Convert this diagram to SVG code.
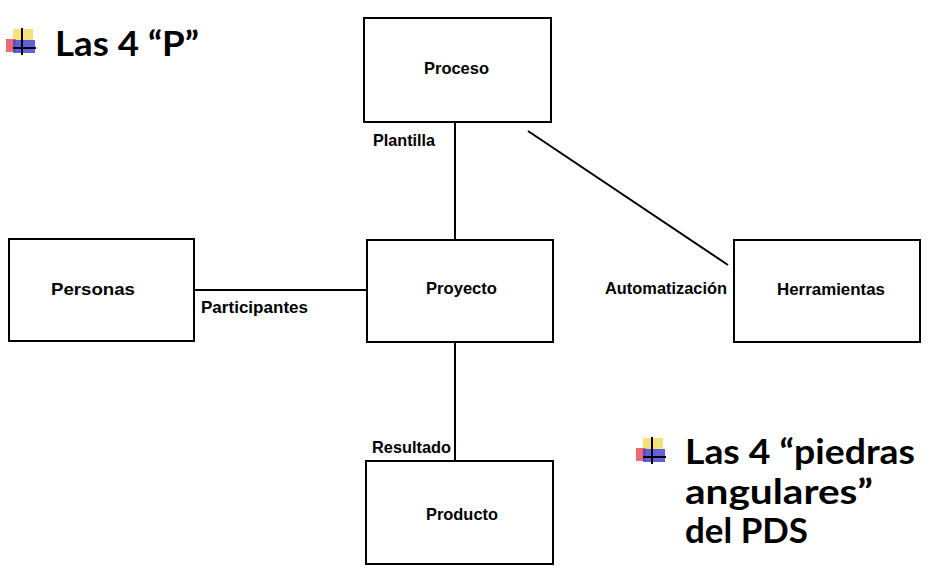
<svg xmlns="http://www.w3.org/2000/svg" width="937" height="579" viewBox="0 0 937 579">
<style>
.box{fill:#fff;stroke:#000;stroke-width:2}
.lbl{font-family:"Liberation Sans",Arial,sans-serif;font-weight:bold;font-size:16.5px;fill:#000}
.title{font-family:Lato,"Open Sans",sans-serif;font-weight:bold;font-size:35px;fill:#000}
.con{stroke:#000;stroke-width:2;fill:none}
</style>
<defs>
<g id="bullet">
<rect x="7" y="1" width="20" height="12" fill="#f7e27a"/>
<rect x="0" y="11" width="10" height="13" fill="#e8505a" opacity="0.85"/>
<rect x="7" y="12" width="22" height="13" fill="#4545d5" opacity="0.85"/>
<line x1="16" y1="0" x2="16" y2="27" stroke="#000" stroke-width="2"/>
<line x1="7" y1="20" x2="30" y2="20" stroke="#000" stroke-width="2"/>
</g>
</defs>
<rect width="937" height="579" fill="#fff"/>
<g id="connectors">
<line class="con" x1="455" y1="122" x2="455" y2="240"/>
<line class="con" x1="194" y1="290" x2="367" y2="290"/>
<line class="con" x1="455" y1="342" x2="455" y2="461"/>
<line class="con" x1="528" y1="131" x2="728" y2="265"/>
<text class="lbl" x="373" y="146" textLength="62" lengthAdjust="spacingAndGlyphs">Plantilla</text>
<text class="lbl" x="201" y="313" textLength="107" lengthAdjust="spacingAndGlyphs">Participantes</text>
<text class="lbl" x="605" y="294" textLength="122" lengthAdjust="spacingAndGlyphs">Automatización</text>
<text class="lbl" x="372" y="453" textLength="79" lengthAdjust="spacingAndGlyphs">Resultado</text>
</g>
<g id="proceso">
<rect class="box" x="364" y="18" width="187" height="104"/>
<text class="lbl" x="424" y="74" textLength="65" lengthAdjust="spacingAndGlyphs">Proceso</text>
</g>
<g id="personas">
<rect class="box" x="9" y="239" width="185" height="102"/>
<text class="lbl" x="51" y="295" textLength="84" lengthAdjust="spacingAndGlyphs">Personas</text>
</g>
<g id="proyecto">
<rect class="box" x="367" y="240" width="186" height="102"/>
<text class="lbl" x="426" y="294" textLength="71" lengthAdjust="spacingAndGlyphs">Proyecto</text>
</g>
<g id="herramientas">
<rect class="box" x="734" y="240" width="186" height="102"/>
<text class="lbl" x="777" y="295" textLength="108" lengthAdjust="spacingAndGlyphs">Herramientas</text>
</g>
<g id="producto">
<rect class="box" x="366" y="461" width="187" height="103"/>
<text class="lbl" x="426" y="520" textLength="72" lengthAdjust="spacingAndGlyphs">Producto</text>
</g>
<g id="title1">
<use href="#bullet" x="6" y="28"/>
<text class="title" x="55" y="56" textLength="144" lengthAdjust="spacingAndGlyphs">Las 4 “P”</text>
</g>
<g id="title2">
<use href="#bullet" x="636" y="437"/>
<text class="title" x="685" y="464" textLength="230" lengthAdjust="spacingAndGlyphs">Las 4 “piedras</text>
<text class="title" x="685" y="504" textLength="188" lengthAdjust="spacingAndGlyphs">angulares”</text>
<text class="title" x="685" y="543" textLength="123" lengthAdjust="spacingAndGlyphs">del PDS</text>
</g>
</svg>
